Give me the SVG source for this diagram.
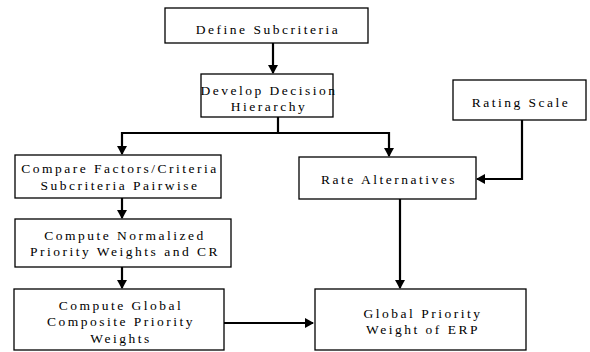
<svg xmlns="http://www.w3.org/2000/svg" width="590" height="352" viewBox="0 0 590 352">
<style>
.box{fill:#fff;stroke:#000;stroke-width:1.3}
.t{font-family:"Liberation Serif","Times New Roman",serif;font-size:13.5px;letter-spacing:2.5px;text-anchor:middle;fill:#000}
.c{fill:none;stroke:#000;stroke-width:2.2}
</style>
<defs>
<marker id="ah" markerWidth="10" markerHeight="10" refX="8" refY="5" orient="auto" markerUnits="userSpaceOnUse">
<path d="M0,0 L9,5 L0,10 Z" fill="#000"/>
</marker>
</defs>
<rect width="590" height="352" fill="#fff"/>
<g id="connectors">
<line class="c" x1="273" y1="43" x2="273" y2="73" marker-end="url(#ah)"/>
<polyline class="c" points="278,117 278,133 122,133 122,154" marker-end="url(#ah)"/>
<polyline class="c" points="278,133 389,133 389,156" marker-end="url(#ah)"/>
<line class="c" x1="122" y1="198" x2="122" y2="218" marker-end="url(#ah)"/>
<line class="c" x1="122" y1="267" x2="122" y2="288" marker-end="url(#ah)"/>
<line class="c" x1="224" y1="323" x2="313" y2="323" marker-end="url(#ah)"/>
<line class="c" x1="400" y1="199" x2="400" y2="288" marker-end="url(#ah)"/>
<polyline class="c" points="522,120 522,179 477,179" marker-end="url(#ah)"/>
</g>
<g id="n1"><rect class="box" x="165" y="8" width="203" height="35"/><text class="t" x="268" y="34">Define Subcriteria</text></g>
<g id="n2"><rect class="box" x="201" y="74" width="132" height="43"/><text class="t" x="269" y="95">Develop Decision</text><text class="t" x="269" y="111">Hierarchy</text></g>
<g id="n3"><rect class="box" x="15" y="155" width="206" height="43"/><text class="t" x="120" y="173">Compare Factors/Criteria</text><text class="t" x="120" y="190">Subcriteria Pairwise</text></g>
<g id="n4"><rect class="box" x="15" y="219" width="216" height="48"/><text class="t" x="125" y="240">Compute  Normalized</text><text class="t" x="125" y="256">Priority Weights and CR</text></g>
<g id="n5"><rect class="box" x="14" y="289" width="210" height="61"/><text class="t" x="121" y="310">Compute Global</text><text class="t" x="121" y="326">Composite Priority</text><text class="t" x="121" y="343">Weights</text></g>
<g id="n6"><rect class="box" x="299" y="157" width="177" height="42"/><text class="t" x="389" y="184">Rate Alternatives</text></g>
<g id="n7"><rect class="box" x="453" y="80" width="133" height="40"/><text class="t" x="521" y="107">Rating Scale</text></g>
<g id="n8"><rect class="box" x="315" y="289" width="211" height="61"/><text class="t" x="423" y="318">Global Priority</text><text class="t" x="423" y="334">Weight of ERP</text></g>
</svg>
